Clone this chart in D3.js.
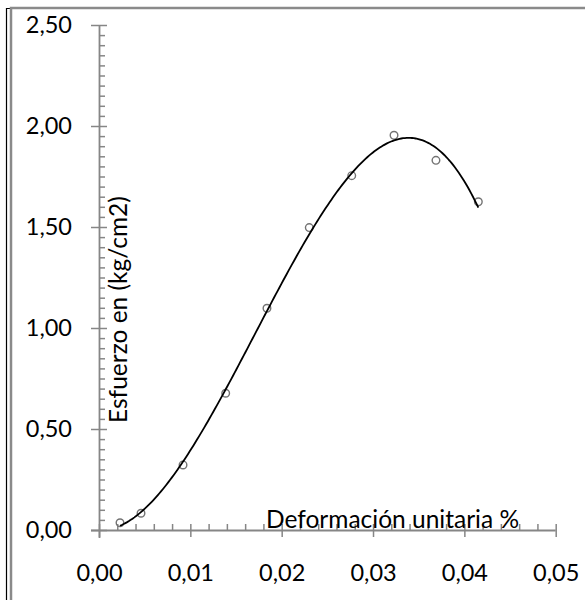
<!DOCTYPE html>
<html>
<head>
<meta charset="utf-8">
<script src="https://cdn.jsdelivr.net/npm/d3@7"></script>
<style>
  html, body { margin: 0; padding: 0; background: #fff; overflow: hidden; }
  svg { display: block; }
  text { font-family: Lato, "Open Sans", sans-serif; fill: #000; }
</style>
</head>
<body>
<script>
// Ensayo de compresión: deformación unitaria vs. esfuerzo
const deformacion = [0.0023, 0.0046, 0.0092, 0.01387, 0.01839, 0.02302, 0.02767, 0.0323, 0.03689, 0.04153];
const esfuerzo    = [0.036, 0.083, 0.322, 0.677, 1.0975, 1.497, 1.754, 1.954, 1.830, 1.625];

const xTickValues = [0, 0.01, 0.02, 0.03, 0.04, 0.05];
const xTickLabels = ["0,00", "0,01", "0,02", "0,03", "0,04", "0,05"];
const yTickValues = [0, 0.5, 1.0, 1.5, 2.0, 2.5];
const yTickLabels = ["0,00", "0,50", "1,00", "1,50", "2,00", "2,50"];

const xTitle = "Deformación unitaria %";
const yTitle = "Esfuerzo en (kg/cm2)";

const W = 585, H = 600;
const axisGray = "#868686";
const labelSize = 23.5;
const titleSize = 24.5;

const svg = d3.select("body").append("svg").attr("width", W).attr("height", H);

// chart frame (top and left edges; the rest runs off the page)
svg.append("rect").attr("x", 0).attr("y", 0).attr("width", W).attr("height", H).attr("fill", "#fff");
svg.append("path").attr("d", `M6.5,${H} V8.5 H12`).attr("fill", "none").attr("stroke", "#000").attr("stroke-width", 1.2);
svg.append("path").attr("d", `M11,${H} V8 H${W}`).attr("fill", "none").attr("stroke", "#8a8a8a").attr("stroke-width", 2.5);

const x = d3.scaleLinear().domain([0, 0.05]).range([99, 555.7]);
const y = d3.scaleLinear().domain([0, 2.5]).range([530, 25]);

const fmtX = d => xTickLabels[xTickValues.findIndex(v => Math.abs(v - d) < 1e-9)];
const fmtY = d => yTickLabels[yTickValues.findIndex(v => Math.abs(v - d) < 1e-9)];

function styleAxis(g) {
  g.selectAll(".domain").attr("stroke", axisGray).attr("stroke-width", 1.8);
  g.selectAll(".tick line").attr("stroke", axisGray).attr("stroke-width", 1.5);
  g.selectAll("text").attr("font-size", labelSize).attr("font-family", "Lato, 'Open Sans', sans-serif").attr("fill", "#000");
}

// minor ticks (inside)
const xMinor = d3.range(0, 0.0501, 0.002).filter(v => Math.abs(v / 0.01 - Math.round(v / 0.01)) > 1e-6);
const yMinor = d3.range(0, 2.501, 0.05).filter(v => Math.abs(v / 0.5 - Math.round(v / 0.5)) > 1e-6);

svg.append("g").attr("transform", `translate(0,${y(0)})`)
  .call(d3.axisTop(x).tickValues(xMinor).tickSize(6).tickSizeOuter(0).tickFormat(""))
  .call(g => g.select(".domain").remove())
  .call(styleAxis);
svg.append("g").attr("transform", `translate(${x(0)},0)`)
  .call(d3.axisRight(y).tickValues(yMinor).tickSize(6).tickSizeOuter(0).tickFormat(""))
  .call(g => g.select(".domain").remove())
  .call(styleAxis);

// major ticks, inner half
svg.append("g").attr("transform", `translate(0,${y(0)})`)
  .call(d3.axisTop(x).tickValues(xTickValues).tickSize(6).tickSizeOuter(0).tickFormat(""))
  .call(g => g.select(".domain").remove())
  .call(styleAxis);
svg.append("g").attr("transform", `translate(${x(0)},0)`)
  .call(d3.axisRight(y).tickValues(yTickValues).tickSize(8).tickSizeOuter(0).tickFormat(""))
  .call(g => g.select(".domain").remove())
  .call(styleAxis);

// main axes with outer half of major ticks and labels
const xAxisG = svg.append("g").attr("transform", `translate(0,${y(0)})`)
  .call(d3.axisBottom(x).tickValues(xTickValues).tickSize(7).tickSizeOuter(0).tickPadding(27).tickFormat(fmtX))
  .call(styleAxis);
xAxisG.select(".domain").attr("d", `M${x(0) - 8},0.5H${x(0.05)}`);

const yAxisG = svg.append("g").attr("transform", `translate(${x(0)},0)`)
  .call(d3.axisLeft(y).tickValues(yTickValues).tickSize(8).tickSizeOuter(0).tickPadding(19).tickFormat(fmtY))
  .call(styleAxis);
yAxisG.select(".domain").attr("d", `M0.5,${y(2.5)}V${y(0) + 8}`);

// least-squares cubic trendline through the measured points
function polyFit(xs, ys, order) {
  const n = order + 1;
  const A = Array.from({ length: n }, () => new Array(n + 1).fill(0));
  xs.forEach((xv, k) => {
    for (let i = 0; i < n; i++) {
      for (let j = 0; j < n; j++) A[i][j] += Math.pow(xv, i + j);
      A[i][n] += ys[k] * Math.pow(xv, i);
    }
  });
  for (let c = 0; c < n; c++) {
    let p = c;
    for (let r = c + 1; r < n; r++) if (Math.abs(A[r][c]) > Math.abs(A[p][c])) p = r;
    [A[c], A[p]] = [A[p], A[c]];
    for (let r = 0; r < n; r++) {
      if (r === c) continue;
      const f = A[r][c] / A[c][c];
      for (let k = c; k <= n; k++) A[r][k] -= f * A[c][k];
    }
  }
  return A.map((row, i) => row[n] / row[i]);
}
const xsScaled = deformacion.map(v => v * 100);
const coef = polyFit(xsScaled, esfuerzo, 3);
const trend = xv => coef.reduce((s, c, i) => s + c * Math.pow(xv * 100, i), 0);
const xMin = d3.min(deformacion), xMax = d3.max(deformacion);
const trendPts = d3.range(0, 201).map(i => {
  const xv = xMin + (xMax - xMin) * i / 200;
  return [xv, trend(xv)];
});

// data markers
svg.append("g").selectAll("circle").data(deformacion).join("circle")
  .attr("cx", d => x(d)).attr("cy", (d, i) => y(esfuerzo[i])).attr("r", 3.8)
  .attr("fill", "none").attr("stroke", "#737373").attr("stroke-width", 1.4);

svg.append("path").datum(trendPts)
  .attr("d", d3.line().x(d => x(d[0])).y(d => y(d[1])))
  .attr("fill", "none").attr("stroke", "#000").attr("stroke-width", 1.8);

// axis titles
svg.append("text").attr("x", 266).attr("y", 528).attr("font-size", titleSize).text(xTitle);
svg.append("text").attr("transform", "translate(127,423) rotate(-90)").attr("font-size", titleSize).text(yTitle);
</script>
</body>
</html>
